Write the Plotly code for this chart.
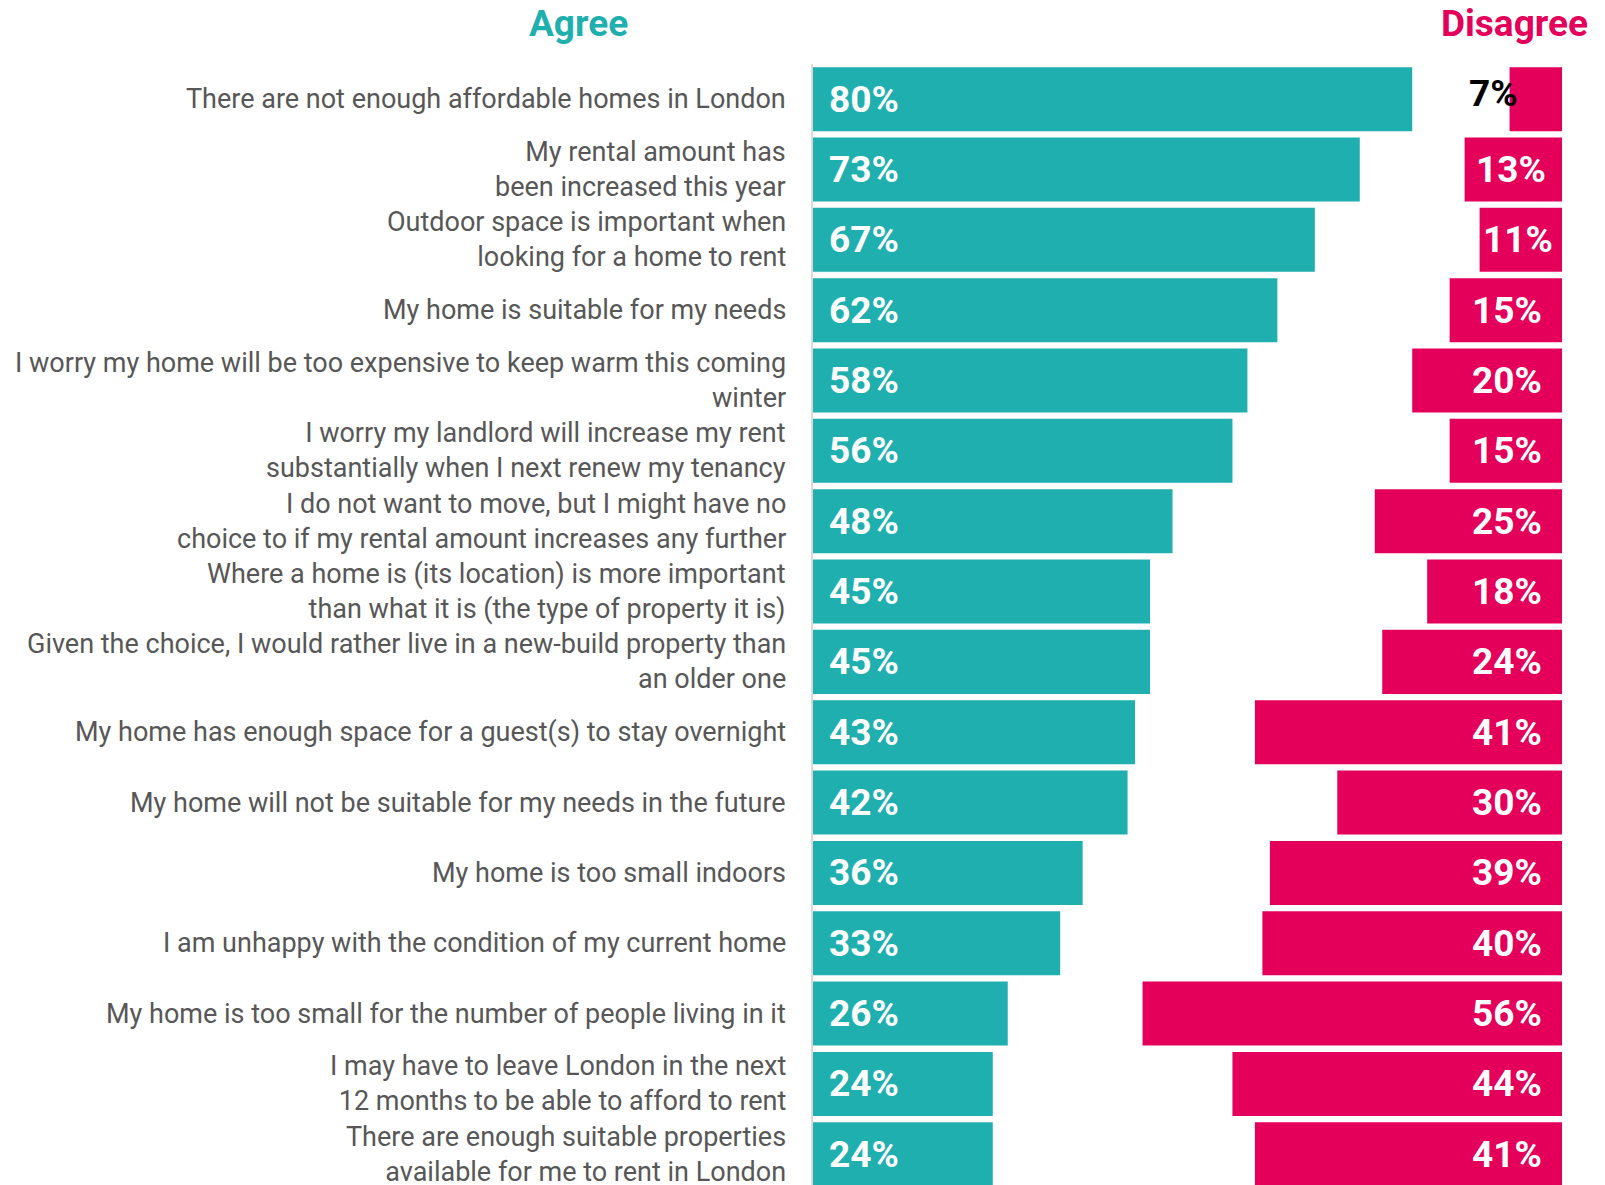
import plotly.graph_objects as go

statements = [
    "There are not enough affordable homes in London",
    "My rental amount has<br>been increased this year",
    "Outdoor space is important when<br>looking for a home to rent",
    "My home is suitable for my needs",
    "I worry my home will be too expensive to keep warm this coming<br>winter",
    "I worry my landlord will increase my rent<br>substantially when I next renew my tenancy",
    "I do not want to move, but I might have no<br>choice to if my rental amount increases any further",
    "Where a home is (its location) is more important<br>than what it is (the type of property it is)",
    "Given the choice, I would rather live in a new-build property than<br>an older one",
    "My home has enough space for a guest(s) to stay overnight",
    "My home will not be suitable for my needs in the future",
    "My home is too small indoors",
    "I am unhappy with the condition of my current home",
    "My home is too small for the number of people living in it",
    "I may have to leave London in the next<br>12 months to be able to afford to rent",
    "There are enough suitable properties<br>available for me to rent in London",
]
agree = [80, 73, 67, 62, 58, 56, 48, 45, 45, 43, 42, 36, 33, 26, 24, 24]
disagree = [7, 13, 11, 15, 20, 15, 25, 18, 24, 41, 30, 39, 40, 56, 44, 41]

TEAL = "#1EAFAE"
PINK = "#E4005A"
LABEL = "#575757"
FONT = "Roboto"

# page body has an 8px default margin; compensate so plot lands where the reference has it
OFF = 8
W, H = 1605 - OFF, 1185 - OFF
L, R, T = 813 - OFF, 43, 63.5 - OFF
plot_w = W - L - R
plot_h = H - T
PITCH = 70.37
PX_PER_UNIT = plot_w / 100
VALUE_TEXT_W = 69  # approx rendered width of a "NN%" label

n = len(statements)
ypos = list(range(n))

fig = go.Figure()
fig.add_trace(go.Bar(
    y=ypos, x=agree, base=0, orientation="h", width=0.91,
    marker=dict(color=TEAL, line=dict(width=0)), hoverinfo="skip",
))
fig.add_trace(go.Bar(
    y=ypos, x=disagree, base=[100 - d for d in disagree], orientation="h", width=0.91,
    marker=dict(color=PINK, line=dict(width=0)), hoverinfo="skip",
))

ann = []
for i, (s, a, d) in enumerate(zip(statements, agree, disagree)):
    ann.append(dict(x=0, y=i, xref="paper", yref="y", text=s, xanchor="right",
                    yanchor="middle", align="right", xshift=-25, showarrow=False,
                    font=dict(family=FONT, size=27, color=LABEL)))
    ann.append(dict(x=0, y=i, xref="x", yref="y", text=f"{a}%", xanchor="left",
                    yanchor="middle", xshift=14, showarrow=False,
                    font=dict(family=FONT, size=37, color="white", weight="bold")))
    if d >= 10:
        pad = min(18, (d * PX_PER_UNIT - VALUE_TEXT_W) / 2)
        ann.append(dict(x=100, y=i, xref="x", yref="y", text=f"{d}%", xanchor="right",
                        yanchor="middle", xshift=-pad, showarrow=False,
                        font=dict(family=FONT, size=37, color="white", weight="bold")))
    else:
        ann.append(dict(x=100 - d, y=i, xref="x", yref="y", text=f"{d}%", xanchor="right",
                        yanchor="middle", xshift=10, yshift=6, showarrow=False,
                        font=dict(family=FONT, size=37, color="black", weight="bold")))

ann.append(dict(x=(578 - 813) / plot_w, y=1 + (T - (23 - OFF)) / plot_h, xref="paper", yref="paper",
                text="Agree", xanchor="center", yanchor="middle", showarrow=False, borderpad=0,
                font=dict(family=FONT, size=37, color=TEAL, weight="bold")))
ann.append(dict(x=(1589 - 813) / plot_w, y=1 + (T - (23 - OFF)) / plot_h, xref="paper", yref="paper",
                text="Disagree", xanchor="right", yanchor="middle", showarrow=False, borderpad=0,
                font=dict(family=FONT, size=37, color=PINK, weight="bold")))

fig.update_layout(
    width=W, height=H,
    margin=dict(l=L, r=R, t=T, b=0, pad=0),
    paper_bgcolor="white", plot_bgcolor="white",
    barmode="overlay", showlegend=False,
    annotations=ann,
    xaxis=dict(range=[0, 100], visible=False, fixedrange=True),
    yaxis=dict(range=[15.5 - (16 * PITCH - plot_h) / PITCH, -0.5], showticklabels=False,
               showgrid=False, zeroline=False, showline=True, linecolor="#D9D9D9",
               linewidth=2, ticks="", fixedrange=True),
)

fig.write_html("out.html", config={"displayModeBar": False})
